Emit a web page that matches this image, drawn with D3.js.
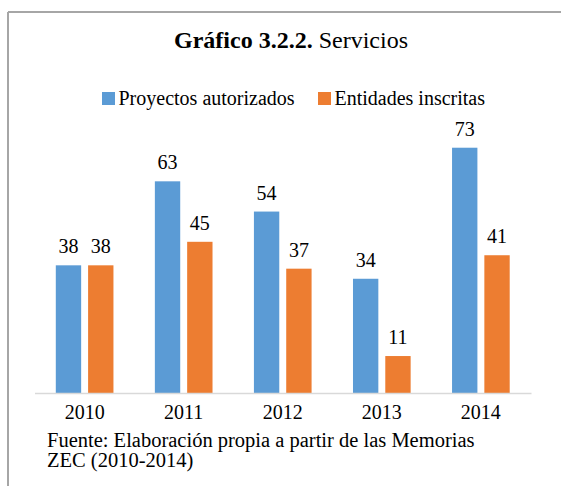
<!DOCTYPE html>
<html>
<head>
<meta charset="utf-8">
<script src="https://cdn.jsdelivr.net/npm/d3@7"></script>
<style>
  body { margin: 0; background: #fff; }
  svg text { font-family: "Liberation Serif", "Times New Roman", Tinos, "DejaVu Serif", serif; }
</style>
</head>
<body>
<div id="chart"></div>
<script>
// data
const years = ["2010", "2011", "2012", "2013", "2014"];
const seriesNames = ["Proyectos autorizados", "Entidades inscritas"];
const proyectos = [38, 63, 54, 34, 73];
const entidades = [38, 45, 37, 11, 41];
const colors = ["#5B9BD5", "#ED7D31"];

const width = 561, height = 486;
const serif = "'Liberation Serif', 'Times New Roman', Tinos, 'DejaVu Serif', serif";

const svg = d3.select("#chart").append("svg")
    .attr("width", width)
    .attr("height", height);

// frame (only top and left edges are visible)
svg.append("line")
    .attr("x1", 8).attr("y1", 12).attr("x2", width).attr("y2", 12)
    .attr("stroke", "#a6a6a6").attr("stroke-width", 2);
svg.append("line")
    .attr("x1", 8).attr("y1", 12).attr("x2", 8).attr("y2", height)
    .attr("stroke", "#a6a6a6").attr("stroke-width", 2);

// title
let title = svg.append("text")
    .attr("x", 291)
    .attr("y", 48)
    .attr("text-anchor", "middle")
    .attr("font-family", serif)
    .attr("font-size", 24)
    .attr("fill", "#000");
title.append("tspan").attr("font-weight", "bold").text("Gráfico 3.2.2.");
title.append("tspan").text(" Servicios");

// legend
const legendX = [102, 318];
seriesNames.forEach(function(name, i) {
    let g = svg.append("g").attr("transform", "translate(" + legendX[i] + ",92)");
    g.append("rect")
        .attr("width", 13).attr("height", 13)
        .attr("fill", colors[i]);
    g.append("text")
        .attr("x", 16.5).attr("y", 13)
        .attr("font-family", serif)
        .attr("font-size", 20)
        .attr("fill", "#000")
        .text(name);
});

// scales
const baseY = 393;
const y = d3.scaleLinear().domain([0, 80]).range([baseY, baseY - 80 * 3.36]);

const x0 = d3.scaleBand()
    .domain(years)
    .range([34.5, 531])
    .paddingInner(0.418)
    .paddingOuter(0.215);

const x1 = d3.scaleBand()
    .domain(seriesNames)
    .range([0, x0.bandwidth()])
    .paddingInner(0.215);

const rows = years.map(function(yr, i) {
    return {year: yr, values: [proyectos[i], entidades[i]]};
});

// bars
const groups = svg.selectAll(".group")
    .data(rows)
    .enter()
    .append("g")
    .attr("class", "group")
    .attr("transform", function(d) { return "translate(" + x0(d.year) + ",0)"; });

groups.selectAll("rect")
    .data(function(d) { return d.values.map(function(v, i) { return {name: seriesNames[i], value: v, i: i}; }); })
    .enter()
    .append("rect")
    .attr("x", function(d) { return x1(d.name); })
    .attr("y", function(d) { return y(d.value); })
    .attr("width", x1.bandwidth())
    .attr("height", function(d) { return baseY - y(d.value); })
    .attr("fill", function(d) { return colors[d.i]; });

groups.selectAll(".lbl")
    .data(function(d) { return d.values.map(function(v, i) { return {name: seriesNames[i], value: v}; }); })
    .enter()
    .append("text")
    .attr("class", "lbl")
    .attr("x", function(d) { return x1(d.name) + x1.bandwidth() / 2; })
    .attr("y", function(d) { return y(d.value) - 12; })
    .attr("text-anchor", "middle")
    .attr("font-family", serif)
    .attr("font-size", 20)
    .attr("fill", "#000")
    .text(function(d) { return d.value; });

// x axis
const axis = svg.append("g")
    .attr("transform", "translate(0," + baseY + ")")
    .call(d3.axisBottom(x0).tickSize(0).tickPadding(12));
axis.attr("font-family", serif);
axis.select(".domain").attr("stroke", "#d9d9d9").attr("stroke-width", 1.5);
axis.selectAll("text")
    .attr("font-family", serif)
    .attr("font-size", 20)
    .attr("fill", "#000")
    .attr("dy", "0.71em");

// source note
const note = svg.append("text")
    .attr("x", 47)
    .attr("font-family", serif)
    .attr("font-size", 20.5)
    .attr("fill", "#000");
note.append("tspan").attr("x", 47).attr("y", 447).text("Fuente: Elaboración propia a partir de las Memorias");
note.append("tspan").attr("x", 47).attr("y", 467).text("ZEC (2010-2014)");
</script>
</body>
</html>
